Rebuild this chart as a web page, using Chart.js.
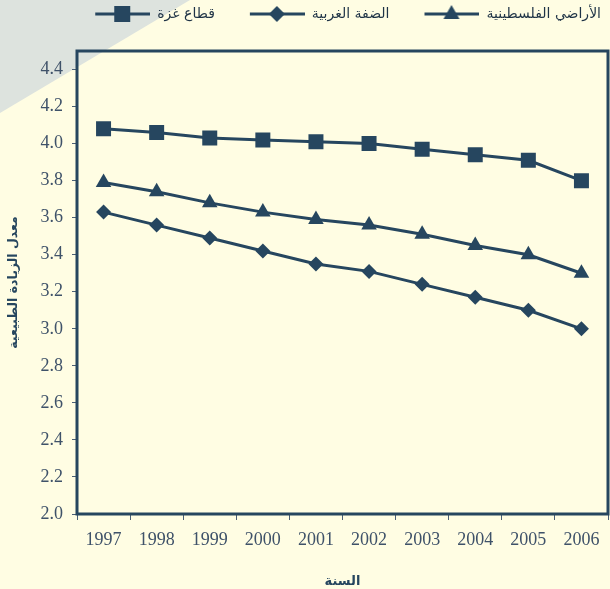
<!DOCTYPE html>
<html lang="ar">
<head>
<meta charset="utf-8">
<title>معدل الزيادة الطبيعية</title>
<script src="https://cdn.jsdelivr.net/npm/chart.js@4.4.0/dist/chart.umd.min.js"></script>
<style>
  html, body { margin: 0; padding: 0; background: #FFFDE3; }
  #rate__chart { display: block; }
</style>
</head>
<body>
<canvas id="rate__chart" width="610" height="589"></canvas>
<script>
// Chart values
const years = ['1997', '1998', '1999', '2000', '2001', '2002', '2003', '2004', '2005', '2006'];
const seriesNames = ['قطاع غزة', 'الضفة الغربية', 'الأراضي الفلسطينية'];
const gazaRates = [4.08, 4.06, 4.03, 4.02, 4.01, 4.00, 3.97, 3.94, 3.91, 3.80];
const westBankRates = [3.63, 3.56, 3.49, 3.42, 3.35, 3.31, 3.24, 3.17, 3.10, 3.00];
const territoriesRates = [3.79, 3.74, 3.68, 3.63, 3.59, 3.56, 3.51, 3.45, 3.40, 3.30];
const yTickValues = [2.0, 2.2, 2.4, 2.6, 2.8, 3.0, 3.2, 3.4, 3.6, 3.8, 4.0, 4.2, 4.4];
const yAxisTitle = 'معدل الزيادة الطبيعية';
const xAxisTitle = 'السنة';

const navy = '#26465f';
const tickColor = '#3f5269';

// Small canvas used as legend symbol: a line with the marker in the middle
function legendSymbol(kind) {
  const margin = 28;
  const c = document.createElement('canvas');
  c.width = 55 + margin;
  c.height = 20;
  const g = c.getContext('2d');
  const cx = margin + 27, cy = 10;
  g.strokeStyle = navy;
  g.fillStyle = navy;
  g.lineWidth = 3;
  g.beginPath();
  g.moveTo(margin, cy);
  g.lineTo(margin + 55, cy);
  g.stroke();
  g.beginPath();
  if (kind === 'rect') {
    g.rect(cx - 8, cy - 8, 16, 16);
  } else if (kind === 'rectRot') {
    g.moveTo(cx, cy - 8); g.lineTo(cx + 8, cy); g.lineTo(cx, cy + 8); g.lineTo(cx - 8, cy);
  } else {
    g.moveTo(cx, cy - 9); g.lineTo(cx + 8, cy + 5); g.lineTo(cx - 8, cy + 5);
  }
  g.closePath();
  g.fill();
  return c;
}
const legendIcons = [legendSymbol('rect'), legendSymbol('rectRot'), legendSymbol('triangle')];

// Cream background with the grey corner, and the box round the plot
const framePlugin = {
  id: 'frame',
  beforeInit(chart) {
    const fit = chart.legend.fit;
    chart.legend.fit = function () {
      fit.call(this);
      this.height += 20;
    };
  },
  beforeDraw(chart) {
    const ctx = chart.ctx;
    ctx.save();
    ctx.fillStyle = '#FFFDE3';
    ctx.fillRect(0, 0, chart.width, chart.height);
    ctx.fillStyle = '#DDE3DE';
    ctx.beginPath();
    ctx.moveTo(0, 0);
    ctx.lineTo(190, 0);
    ctx.lineTo(0, 113);
    ctx.closePath();
    ctx.fill();
    ctx.restore();
  },
  beforeDatasetsDraw(chart) {
    const {ctx, chartArea: a} = chart;
    ctx.save();
    ctx.strokeStyle = navy;
    ctx.lineWidth = 3;
    ctx.strokeRect(a.left, a.top, a.right - a.left, a.bottom - a.top);
    ctx.restore();
  }
};

function makeDataset(label, data, style, radius) {
  return {
    label: label,
    data: data,
    borderColor: navy,
    backgroundColor: navy,
    borderWidth: 3,
    tension: 0,
    pointStyle: style,
    pointRadius: radius,
    pointHoverRadius: radius,
    pointBorderWidth: 0,
    pointBackgroundColor: navy
  };
}

const ctx = document.getElementById('rate__chart').getContext('2d');
const rateChart = new Chart(ctx, {
  type: 'line',
  data: {
    labels: years,
    datasets: [
      makeDataset(seriesNames[0], gazaRates, 'rect', 10.6),
      makeDataset(seriesNames[1], westBankRates, 'rectRot', 7.5),
      makeDataset(seriesNames[2], territoriesRates, 'triangle', 9)
    ]
  },
  options: {
    responsive: false,
    animation: false,
    layout: {
      autoPadding: false,
      padding: { top: 0, right: 2, left: 0, bottom: 0 }
    },
    plugins: {
      tooltip: { enabled: false },
      legend: {
        position: 'top',
        align: 'end',
        labels: {
          usePointStyle: true,
          pointStyleWidth: 83,
          padding: 7,
          color: '#1f3346',
          font: { family: 'DejaVu Sans', size: 14 },
          generateLabels: (chart) =>
            Chart.defaults.plugins.legend.labels.generateLabels(chart)
              .map((item, i) => ({ ...item, pointStyle: legendIcons[i] }))
        }
      }
    },
    scales: {
      x: {
        type: 'category',
        offset: true,
        border: { display: false },
        grid: {
          offset: true,
          drawOnChartArea: false,
          drawTicks: true,
          tickLength: 6,
          color: '#4a5f75'
        },
        ticks: {
          color: tickColor,
          padding: 9,
          maxRotation: 0,
          font: { family: 'Liberation Serif', size: 18 }
        },
        title: {
          display: true,
          text: xAxisTitle,
          color: navy,
          padding: { top: 0, bottom: 0 },
          font: { family: 'DejaVu Sans', size: 13, weight: 'bold' }
        },
        afterFit: (scale) => {
          scale.height = 75;
          scale.paddingLeft = 0;
          scale.paddingRight = 0;
        }
      },
      y: {
        min: 2.0,
        max: 4.5,
        border: { display: false },
        grid: {
          drawOnChartArea: false,
          drawTicks: true,
          tickLength: 5,
          color: '#4a5f75'
        },
        ticks: {
          color: tickColor,
          padding: 9,
          font: { family: 'Liberation Serif', size: 18 },
          callback: (value) => Number(value).toFixed(1)
        },
        afterBuildTicks: (scale) => {
          scale.ticks = yTickValues.map(v => ({ value: v }));
        },
        title: {
          display: true,
          text: yAxisTitle,
          color: navy,
          padding: { top: 6, bottom: 0 },
          font: { family: 'DejaVu Sans', size: 12.5, weight: 'bold' }
        },
        afterFit: (scale) => {
          scale.width = 77;
          scale.paddingTop = 0;
          scale.paddingBottom = 0;
        }
      }
    }
  },
  plugins: [framePlugin]
});
</script>
</body>
</html>
